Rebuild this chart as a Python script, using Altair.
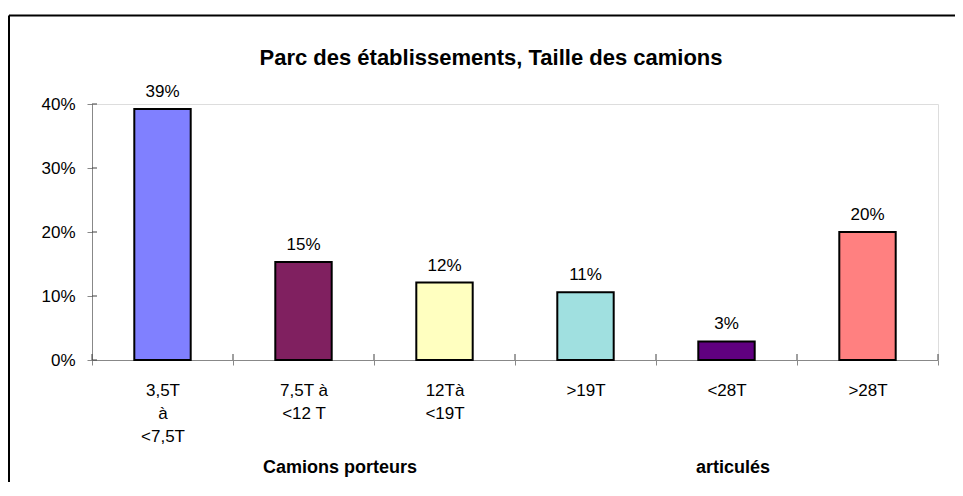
import altair as alt
import pandas as pd

# ---- data ----
categories = ["3,5T\nà\n<7,5T", "7,5T à\n<12 T", "12Tà\n<19T", ">19T", "<28T", ">28T"]
values = [39.2, 15.3, 12.1, 10.6, 2.9, 20.0]
colors = ["#8080FF", "#802060", "#FFFFC0", "#A0E0E0", "#600080", "#FF8080"]
y_ticks = [0, 10, 20, 30, 40]
title_text = "Parc des établissements, Taille des camions"
group_left = "Camions porteurs"
group_right = "articulés"

W, H = 846, 256
FONT = "Liberation Sans"

df = pd.DataFrame({"cat": categories, "value": values})

x_enc = alt.X(
    "cat:N",
    sort=categories,
    scale=alt.Scale(paddingInner=0, paddingOuter=0),
    axis=alt.Axis(
        title=None,
        labelAngle=0,
        tickBand="extent",
        labelExpr="split(datum.label, '\\n')",
        labelLineHeight=23,
        labelPadding=17,
        labelFontSize=17,
        tickSize=5,
    ),
)
y_enc = alt.Y(
    "value:Q",
    scale=alt.Scale(domain=[0, 40], nice=False),
    axis=alt.Axis(
        values=y_ticks,
        labelExpr="datum.value + '%'",
        title=None,
        grid=False,
        tickSize=5,
        labelPadding=12,
        labelFontSize=17,
    ),
)

bars = alt.Chart(df).mark_bar(
    width=alt.RelativeBandSize(0.4), stroke="black", strokeWidth=2
).encode(
    x=x_enc,
    y=y_enc,
    color=alt.Color("cat:N", sort=categories,
                    scale=alt.Scale(domain=categories, range=colors), legend=None),
)

labels = alt.Chart(df).transform_calculate(
    lbl="format(datum.value, '.0f') + '%'"
).mark_text(dy=-12, baseline="alphabetic", fontSize=17, font=FONT, color="black").encode(
    x=alt.X("cat:N", sort=categories),
    y="value:Q",
    text="lbl:N",
)

# inner halves of the crossing tick marks
ytick_in = alt.Chart(pd.DataFrame({"value": y_ticks})).mark_rule(color="#404040").encode(
    y="value:Q", x=alt.value(0), x2=alt.value(5)
)
xtick_in = alt.Chart(df).mark_rule(color="#404040").encode(
    x=alt.X("cat:N", sort=categories, bandPosition=0),
    y=alt.value(H - 6), y2=alt.value(H),
)
one = pd.DataFrame({"k": [0]})
xtick_end = alt.Chart(one).mark_rule(color="#404040").encode(
    x=alt.value(W), y=alt.value(H - 6), y2=alt.value(H)
)

# outer frame (top and left edges visible)
frame_top = alt.Chart(one).mark_rule(color="black", strokeWidth=2).encode(
    x=alt.value(-83), x2=alt.value(W + 17), y=alt.value(-88.5)
)
frame_left = alt.Chart(one).mark_rule(color="black", strokeWidth=2).encode(
    x=alt.value(-83), y=alt.value(-88.5), y2=alt.value(H + 122)
)

title = alt.Chart(pd.DataFrame({"t": [title_text]})).mark_text(
    fontSize=22, fontWeight="bold", font=FONT, baseline="alphabetic", color="black"
).encode(text="t:N", x=alt.value(399), y=alt.value(-39))

g1 = alt.Chart(pd.DataFrame({"g": [group_left]})).mark_text(
    fontSize=18, fontWeight="bold", font=FONT, baseline="alphabetic", color="black"
).encode(text="g:N", x=alt.value(248), y=alt.value(H + 113))
g2 = alt.Chart(pd.DataFrame({"g": [group_right]})).mark_text(
    fontSize=18, fontWeight="bold", font=FONT, baseline="alphabetic", color="black"
).encode(text="g:N", x=alt.value(641), y=alt.value(H + 113))

chart = alt.layer(
    bars, labels, ytick_in, xtick_in, xtick_end, frame_top, frame_left, title, g1, g2
).properties(
    width=W,
    height=H,
    autosize=alt.AutoSizeParams(type="none"),
    padding={"left": 84, "top": 96, "right": 17, "bottom": 122},
).configure_view(
    stroke="#808080", strokeWidth=1.5
).configure_axis(
    domainColor="#303030", domainWidth=1.5, tickColor="#303030",
    labelColor="black", labelFont=FONT,
).configure(background="white")

chart.save("out.html", embed_options={"renderer": "svg", "actions": False})
